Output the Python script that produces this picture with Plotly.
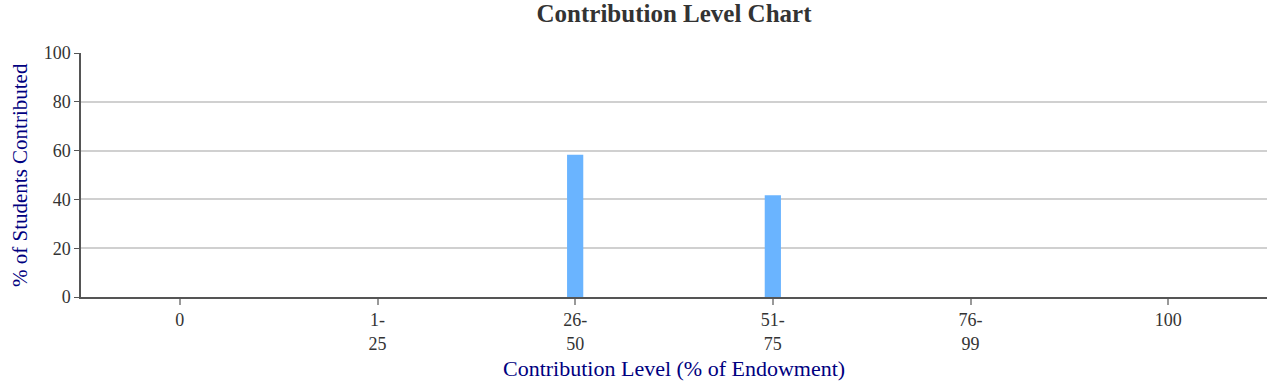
import plotly.graph_objects as go

categories = ["0", "1-<br>25", "26-<br>50", "51-<br>75", "76-<br>99", "100"]
values = [0, 0, 58.33, 41.67, 0, 0]
y_ticks = [0, 20, 40, 60, 80, 100]

fig = go.Figure(go.Bar(
    x=categories, y=values,
    marker=dict(color="#6ab4ff", line=dict(width=0)),
    width=0.082,
))

font = "Liberation Serif, Times New Roman, serif"
fig.update_layout(
    width=1277, height=384,
    margin=dict(l=81, r=10, t=53, b=87, autoexpand=False),
    paper_bgcolor="white", plot_bgcolor="white",
    font=dict(family=font, size=18, color="#333333"),
    title=dict(text="<b>Contribution Level Chart</b>", x=0.5, xanchor="center", xref="paper",
               y=1 - 13 / 384, yanchor="middle", font=dict(size=25, color="#333333", family=font)),
    showlegend=False,
    xaxis=dict(
        type="category", categoryorder="array", categoryarray=categories,
        automargin=False,
        showline=True, linecolor="#555555", linewidth=1.5,
        ticks="outside", tickcolor="#999999", ticklen=6, tickwidth=1.5,
        showgrid=False, zeroline=False,
        tickfont=dict(size=18, color="#333333", family=font),
    ),
    yaxis=dict(
        range=[0, 100], tickvals=y_ticks, automargin=False,
        showline=True, linecolor="#555555", linewidth=1.5,
        ticks="outside", tickcolor="#555555", ticklen=5, tickwidth=1,
        showgrid=True, gridcolor="#d0d0d0", gridwidth=1.5,
        zeroline=False,
        tickfont=dict(size=18, color="#333333", family=font),
    ),
    annotations=[
        dict(text="Contribution Level (% of Endowment)", xref="paper", yref="paper",
             x=0.5, y=0, xanchor="center", yanchor="middle", yshift=-71, showarrow=False,
             font=dict(size=22, color="#000080", family=font)),
        dict(text="% of Students Contributed", xref="paper", yref="paper",
             x=0, y=0.5, xanchor="center", yanchor="middle", xshift=-61, textangle=-90,
             showarrow=False, font=dict(size=21, color="#000080", family=font)),
    ],
)

fig.write_html("out.html", config={"displayModeBar": False},
               post_script="document.body.style.margin='0';")
